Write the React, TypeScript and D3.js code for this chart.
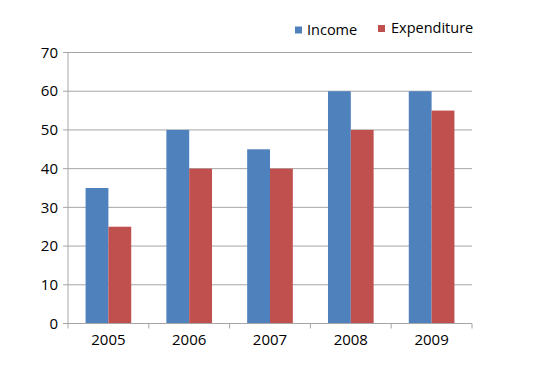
import React from 'react'
import * as d3 from 'd3'

const years = ['2005', '2006', '2007', '2008', '2009']
const income = [35, 50, 45, 60, 60]
const expenditure = [25, 40, 40, 50, 55]
const yTicks = [0, 10, 20, 30, 40, 50, 60, 70]

const seriesNames = ['Income', 'Expenditure']
const colors = ['#4F81BD', '#C0504D']

const W = 548
const H = 369
const margin = { top: 52.5, right: 76, bottom: 45.5, left: 68 }
const font = '"Open Sans", "Noto Sans", sans-serif'

export default function App() {
  const innerW = W - margin.left - margin.right
  const innerH = H - margin.top - margin.bottom

  const x = d3.scaleBand().domain(years).range([0, innerW]).paddingInner(0).paddingOuter(0)
  const inner = d3.scaleBand().domain(seriesNames).range([0, x.bandwidth()]).paddingInner(0).paddingOuter(0.77)
  const y = d3.scaleLinear().domain([0, 70]).range([innerH, 0])

  const series = [income, expenditure]
  const grid = '#A6A6A6'

  return (
    <svg width={W} height={H} style={{ position: 'absolute', left: 0, top: 0, background: '#fff' }}>
      <g transform={`translate(${margin.left},${margin.top})`}>
        {yTicks.map(t => (
          <g key={t}>
            <line x1={-5} x2={innerW} y1={y(t)} y2={y(t)} stroke={grid} strokeWidth={1} />
            <text x={-10} y={y(t)} dy="0.35em" textAnchor="end" fontFamily={font} fontSize={15} fill="#000">{t}</text>
          </g>
        ))}
        {years.map((yr, i) => (
          <g key={yr}>
            {series.map((s, j) => (
              <rect
                key={j}
                x={(x(yr) ?? 0) + (inner(seriesNames[j]) ?? 0)}
                y={y(s[i])}
                width={inner.bandwidth()}
                height={innerH - y(s[i])}
                fill={colors[j]}
              />
            ))}
            <text x={(x(yr) ?? 0) + x.bandwidth() / 2} y={innerH + 21} textAnchor="middle" fontFamily={font} fontSize={15} fill="#000">{yr}</text>
          </g>
        ))}
        <line x1={0} x2={0} y1={0} y2={innerH} stroke={grid} />
        <line x1={0} x2={innerW} y1={innerH} y2={innerH} stroke={grid} />
        {d3.range(years.length + 1).map(i => (
          <line key={i} x1={i * x.bandwidth()} x2={i * x.bandwidth()} y1={innerH} y2={innerH + 5} stroke={grid} />
        ))}
      </g>
      <g>
        <rect x={295} y={26.5} width={7} height={7} fill={colors[0]} />
        <text x={307} y={35} fontFamily={font} fontSize={14.5} fill="#000">{seriesNames[0]}</text>
        <rect x={378} y={25} width={7} height={7} fill={colors[1]} />
        <text x={391} y={33} fontFamily={font} fontSize={14.5} fill="#000">{seriesNames[1]}</text>
      </g>
    </svg>
  )
}
